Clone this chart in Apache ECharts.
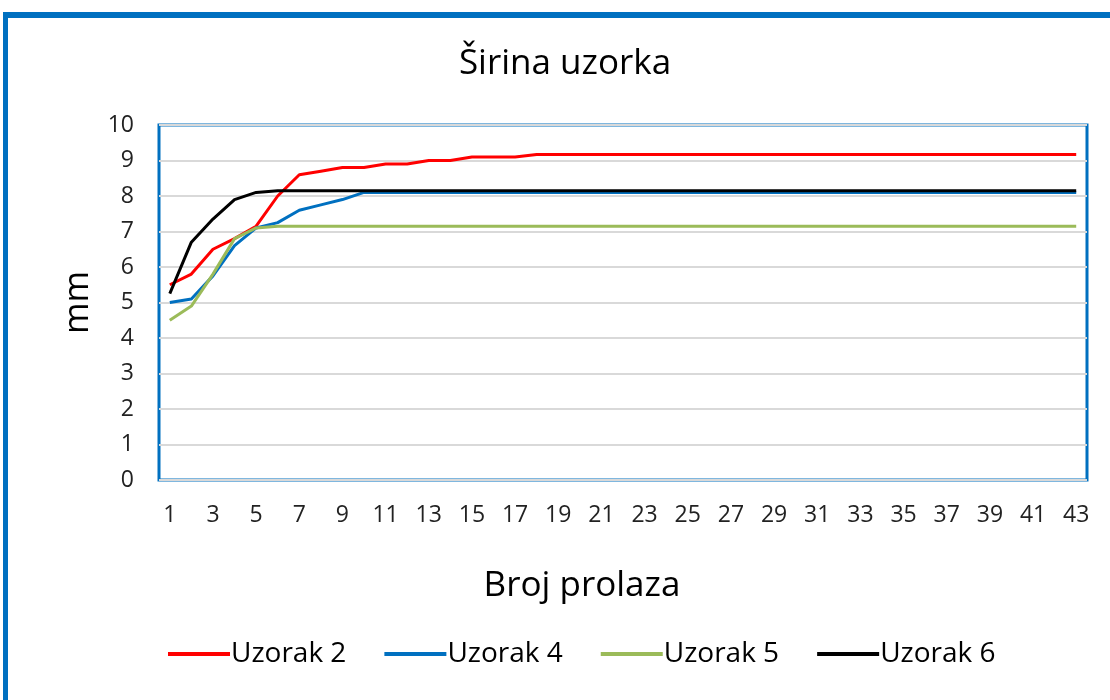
<!DOCTYPE html>
<html>
<head>
<meta charset="utf-8">
<script src="https://cdn.jsdelivr.net/npm/echarts@6/dist/echarts.min.js"></script>
<style>
  html, body { margin: 0; padding: 0; background: #fff; }
  .frame {
    position: absolute; left: 3px; top: 12px; width: 1200px; height: 800px;
    border-top: 6px solid #0070c0; border-left: 5px solid #0070c0;
  }
  #chart { position: absolute; left: 0; top: 0; width: 1110px; height: 700px; }
</style>
</head>
<body>
<div class="frame"></div>
<div id="chart"></div>
<script>
// broj prolaza 1..43
const passes = ['1','2','3','4','5','6','7','8','9','10','11','12','13','14','15','16','17','18','19','20','21','22',
  '23','24','25','26','27','28','29','30','31','32','33','34','35','36','37','38','39','40','41','42','43']

const uzorak2 = [5.5, 5.8, 6.5, 6.8, 7.15, 8.0, 8.6, 8.7, 8.8, 8.8, 8.9, 8.9, 9.0, 9.0, 9.1, 9.1, 9.1, 9.17, 9.17, 9.17,
  9.17, 9.17, 9.17, 9.17, 9.17, 9.17, 9.17, 9.17, 9.17, 9.17, 9.17, 9.17, 9.17, 9.17, 9.17, 9.17, 9.17, 9.17, 9.17, 9.17,
  9.17, 9.17, 9.17]
const uzorak4 = [5.0, 5.1, 5.75, 6.6, 7.1, 7.25, 7.6, 7.75, 7.9, 8.1, 8.1, 8.1, 8.1, 8.1, 8.1, 8.1, 8.1, 8.1, 8.1, 8.1,
  8.1, 8.1, 8.1, 8.1, 8.1, 8.1, 8.1, 8.1, 8.1, 8.1, 8.1, 8.1, 8.1, 8.1, 8.1, 8.1, 8.1, 8.1, 8.1, 8.1,
  8.1, 8.1, 8.1]
const uzorak5 = [4.5, 4.9, 5.8, 6.8, 7.1, 7.15, 7.15, 7.15, 7.15, 7.15, 7.15, 7.15, 7.15, 7.15, 7.15, 7.15, 7.15, 7.15, 7.15, 7.15,
  7.15, 7.15, 7.15, 7.15, 7.15, 7.15, 7.15, 7.15, 7.15, 7.15, 7.15, 7.15, 7.15, 7.15, 7.15, 7.15, 7.15, 7.15, 7.15, 7.15,
  7.15, 7.15, 7.15]
const uzorak6 = [5.25, 6.7, 7.35, 7.9, 8.1, 8.15, 8.15, 8.15, 8.15, 8.15, 8.15, 8.15, 8.15, 8.15, 8.15, 8.15, 8.15, 8.15, 8.15, 8.15,
  8.15, 8.15, 8.15, 8.15, 8.15, 8.15, 8.15, 8.15, 8.15, 8.15, 8.15, 8.15, 8.15, 8.15, 8.15, 8.15, 8.15, 8.15, 8.15, 8.15,
  8.15, 8.15, 8.15]

const seriesNames = ['Uzorak 2', 'Uzorak 4', 'Uzorak 5', 'Uzorak 6']
const seriesColors = ['#ff0000', '#0070c0', '#9bbb59', '#000000']

const FONT = 'Open Sans'

const chart = echarts.init(document.getElementById('chart'))

const mkLine = (i, data) => ({
  name: seriesNames[i],
  type: 'line',
  data: data,
  showSymbol: false,
  symbol: 'none',
  lineStyle: { width: 3, color: seriesColors[i] },
  itemStyle: { color: seriesColors[i] },
  animation: false
})

chart.setOption({
  animation: false,
  title: {
    text: 'Širina uzorka',
    left: 560,
    textAlign: 'center',
    top: 42,
    textStyle: { fontFamily: FONT, fontSize: 35, fontWeight: 'normal', color: '#000' }
  },
  legend: {
    left: 163,
    top: 635,
    icon: 'rect',
    itemWidth: 62,
    itemHeight: 4,
    itemGap: 38,
    data: seriesNames,
    textStyle: { fontFamily: FONT, fontSize: 28, color: '#000', padding: [0, 0, 0, -4] }
  },
  grid: {
    left: 159,
    right: 23,
    top: 125,
    bottom: 220,
    show: true,
    borderColor: '#0070c0',
    borderWidth: 3,
    backgroundColor: '#fff'
  },
  xAxis: {
    type: 'category',
    data: passes,
    boundaryGap: true,
    name: 'Broj prolaza',
    nameLocation: 'middle',
    nameGap: 89,
    nameTextStyle: { fontFamily: FONT, fontSize: 35, color: '#000', padding: [0, 82, 0, 0] },
    axisLine: { show: false },
    axisTick: { show: false },
    axisLabel: { interval: 1, margin: 24, fontFamily: FONT, fontSize: 23, color: '#222' }
  },
  yAxis: {
    type: 'value',
    min: 0,
    max: 10,
    interval: 1,
    name: 'mm',
    nameLocation: 'middle',
    nameGap: 64,
    nameTextStyle: { fontFamily: FONT, fontSize: 34, color: '#000' },
    axisLine: { show: false },
    axisTick: { show: false },
    axisLabel: { margin: 25, fontFamily: FONT, fontSize: 23, color: '#222' },
    splitLine: { lineStyle: { color: '#d9d9d9', width: 2 } }
  },
  series: [
    mkLine(0, uzorak2),
    mkLine(1, uzorak4),
    mkLine(2, uzorak5),
    mkLine(3, uzorak6)
  ]
})
</script>
</body>
</html>
